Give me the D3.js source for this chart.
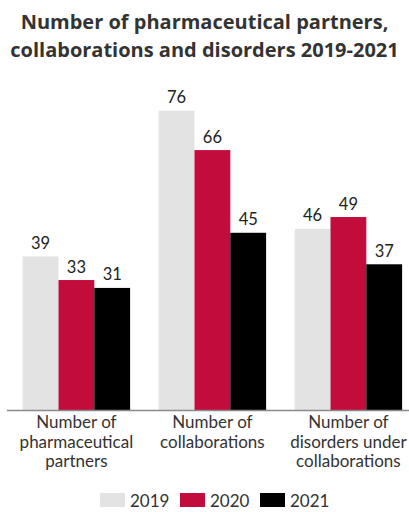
<!DOCTYPE html>
<html lang="en">
<head>
    <meta charset="UTF-8">
    <title>Pharmaceutical partners, collaborations and disorders</title>
    <style>
        html, body { margin: 0; padding: 0; background: #fff; }
        svg { display: block; }
        .title { font-family: "Open Sans", sans-serif; font-weight: 700; font-size: 20px; fill: #333; }
        .value { font-family: Lato, sans-serif; font-size: 16.5px; fill: #222; }
        .tick-label { font-family: Lato, sans-serif; font-size: 17px; fill: #333; }
        .legend-text { font-family: Lato, sans-serif; font-size: 17px; fill: #333; }
    </style>
</head>
<body>
    <div id="chart"></div>

    <script src="https://d3js.org/d3.v7.min.js"></script>
    <script>
        // Chart data
        const categories = ["partners", "collaborations", "disorders"];
        const categoryLabels = [
            ["Number of", "pharmaceutical", "partners"],
            ["Number of", "collaborations"],
            ["Number of", "disorders under", "collaborations"]
        ];
        const years = ["2019", "2020", "2021"];
        const values2019 = [39, 76, 46];
        const values2020 = [33, 66, 49];
        const values2021 = [31, 45, 37];
        const titleLines = ["Number of pharmaceutical partners,", "collaborations and disorders 2019-2021"];

        const colors = d3.scaleOrdinal()
            .domain(years)
            .range(["#e3e3e3", "#c20c3c", "#000000"]);

        const width = 409, height = 512;
        const baseline = 410;

        const svg = d3.select("#chart")
            .append("svg")
            .attr("width", width)
            .attr("height", height);

        // Title
        svg.selectAll(".title")
            .data(titleLines)
            .enter().append("text")
            .attr("class", "title")
            .attr("x", width / 2)
            .attr("y", (d, i) => 29 + i * 28)
            .attr("text-anchor", "middle")
            .text(d => d);

        const x0 = d3.scaleBand()
            .domain(categories)
            .range([8.4, 416.4])
            .paddingInner(0.21)
            .paddingOuter(0.105);

        const x1 = d3.scaleBand()
            .domain(years)
            .range([0, x0.bandwidth()]);

        const y = d3.scaleLinear()
            .domain([0, 76])
            .range([baseline, 110.7]);

        const rows = categories.map((c, i) => ({
            category: c,
            bars: [
                { year: "2019", value: values2019[i] },
                { year: "2020", value: values2020[i] },
                { year: "2021", value: values2021[i] }
            ]
        }));

        const groups = svg.selectAll(".group")
            .data(rows)
            .enter().append("g")
            .attr("class", "group")
            .attr("transform", d => `translate(${x0(d.category)},0)`);

        groups.selectAll("rect")
            .data(d => d.bars)
            .enter().append("rect")
            .attr("x", d => x1(d.year))
            .attr("y", d => y(d.value))
            .attr("width", x1.bandwidth())
            .attr("height", d => baseline - y(d.value))
            .attr("fill", d => colors(d.year));

        groups.selectAll(".value")
            .data(d => d.bars)
            .enter().append("text")
            .attr("class", "value")
            .attr("x", d => x1(d.year) + x1.bandwidth() / 2)
            .attr("y", d => y(d.value) - 7.5)
            .attr("text-anchor", "middle")
            .text(d => d.value);

        // Baseline axis
        svg.append("line")
            .attr("x1", 7)
            .attr("x2", width)
            .attr("y1", baseline + 0.5)
            .attr("y2", baseline + 0.5)
            .attr("stroke", "#8a8a8a")
            .attr("stroke-width", 1.5);

        // Category labels
        categories.forEach((c, i) => {
            const t = svg.append("text")
                .attr("class", "tick-label")
                .attr("text-anchor", "middle")
                .attr("x", x0(c) + x0.bandwidth() / 2);
            categoryLabels[i].forEach((line, j) => {
                t.append("tspan")
                    .attr("x", x0(c) + x0.bandwidth() / 2)
                    .attr("y", 428 + j * 19.5)
                    .text(line);
            });
        });

        // Legend
        const legendX = [100, 180, 260];
        const legend = svg.selectAll(".legend")
            .data(years)
            .enter().append("g")
            .attr("class", "legend")
            .attr("transform", (d, i) => `translate(${legendX[i]},493)`);

        legend.append("rect")
            .attr("width", 25)
            .attr("height", 14)
            .attr("fill", d => colors(d));

        legend.append("text")
            .attr("class", "legend-text")
            .attr("x", 30)
            .attr("y", 13.5)
            .text(d => d);
    </script>
</body>
</html>
